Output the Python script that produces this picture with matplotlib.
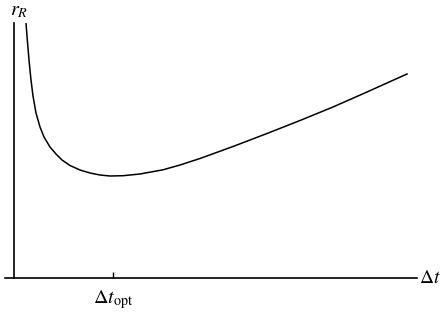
import numpy as np
import matplotlib.pyplot as plt

# valeurs (unités arbitraires)
dt = [1.2, 1.3, 1.4, 1.5, 1.7, 1.9, 2.2, 2.6, 3.0, 3.6, 4.2, 4.8, 5.6, 6.6,
      7.6, 8.6, 9.6, 10.9, 12.6, 14.9, 16.6, 18.6, 21.9, 25.3, 28.6, 31.9,
      35.3, 39.3]
r_R = [25.5, 24.2, 23.0, 21.8, 19.8, 18.2, 16.5, 15.1, 14.1, 13.1, 12.4,
       11.8, 11.25, 10.8, 10.5, 10.3, 10.2, 10.23, 10.4, 10.82, 11.3, 11.95,
       13.15, 14.45, 15.75, 17.1, 18.6, 20.4]
dt_opt = 9.9
tick_labels = [r'$\Delta t_{\mathrm{opt}}$']

plt.rcParams['mathtext.fontset'] = 'stix'
plt.rcParams['font.family'] = 'STIXGeneral'

fig = plt.figure(figsize=(4.41, 3.13), dpi=100)
ax = fig.add_axes([5/441, 35/313, 412/441, 255/313])

ax.plot(dt, r_R, color='black', lw=1.1, solid_joinstyle='round')

ax.set_xlim(-0.9, 40.3)
ax.set_ylim(0, 25.5)

ax.spines['top'].set_visible(False)
ax.spines['right'].set_visible(False)
ax.spines['left'].set_position(('data', 0))
ax.spines['left'].set_linewidth(1.2)
ax.spines['bottom'].set_linewidth(1.2)

ax.set_yticks([])
ax.set_xticks([dt_opt])
ax.set_xticklabels(tick_labels, fontsize=14.5)
ax.tick_params(axis='x', direction='in', length=4, width=1, pad=7)

ax.text(-0.4, 25.8, r'$r_R$', fontsize=14.5, ha='left', va='bottom')
ax.text(40.5, 0, r'$\Delta t$', fontsize=14, ha='left', va='center',
        clip_on=False)

fig.savefig('out.png', dpi=100)
